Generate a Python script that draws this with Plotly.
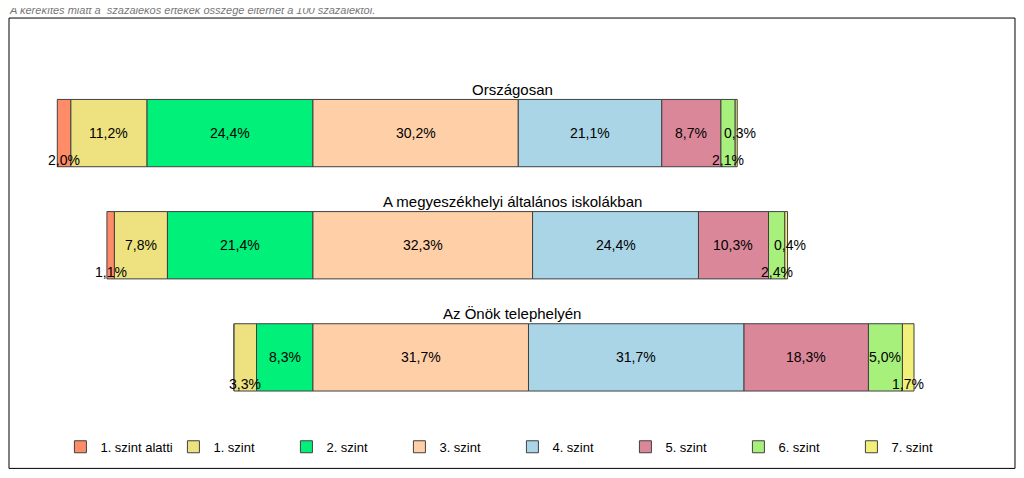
import plotly.graph_objects as go

groups = ["Országosan", "A megyeszékhelyi általános iskolákban", "Az Önök telephelyén"]
levels = ["1. szint alatti", "1. szint", "2. szint", "3. szint",
          "4. szint", "5. szint", "6. szint", "7. szint"]
values = [
    [2.0, 11.2, 24.4, 30.2, 21.1, 8.7, 2.1, 0.3],
    [1.1, 7.8, 21.4, 32.3, 24.4, 10.3, 2.4, 0.4],
    [0.0, 3.3, 8.3, 31.7, 31.7, 18.3, 5.0, 1.7],
]
colors = ["#FF8C69", "#EDE27F", "#00F07A", "#FFCFA8",
          "#AAD5E6", "#DB879A", "#A8F07C", "#F2F078"]

ypos = [2, 1, 0]  # top to bottom

fig = go.Figure()
annotations = []
for li, lvl in enumerate(levels):
    xs, bases, ys = [], [], []
    for gi, row in enumerate(values):
        start = -sum(row[:3]) + sum(row[:li])
        xs.append(row[li])
        bases.append(start)
        ys.append(ypos[gi])
        v = row[li]
        if v <= 0:
            continue
        txt = f"{v:.1f}%".replace(".", ",")
        cx = start + v / 2
        if v >= 4:
            annotations.append(dict(x=cx, y=ypos[gi], text=txt, showarrow=False))
        elif li == len(levels) - 1 and v < 1:
            annotations.append(dict(x=cx, y=ypos[gi], text=txt, showarrow=False, xshift=4))
        else:
            annotations.append(dict(x=cx, y=ypos[gi], text=txt, showarrow=False, yshift=-27))
    fig.add_trace(go.Bar(
        orientation="h", x=xs, base=bases, y=ys, name=lvl,
        marker=dict(color=colors[li], line=dict(color="#404040", width=1)),
        width=0.6, hoverinfo="skip",
    ))

for gi, g in enumerate(groups):
    annotations.append(dict(x=0.5, xref="paper", y=ypos[gi] + 0.39, text=g,
                            showarrow=False, font=dict(size=15)))

annotations.append(dict(x=0, xref="paper", y=1.061, yref="paper", xanchor="left",
                        yanchor="bottom", xshift=-1,
                        text="<i>A kerekítés miatt a  százalékos értékek összege eltérhet a 100 százaléktól.</i>",
                        showarrow=False, font=dict(size=11, color="#777")))
for a in annotations:
    a.setdefault("font", dict(size=14, color="black"))

fig.update_layout(
    barmode="overlay",
    width=1008, height=462,
    margin=dict(l=0, r=0, t=32, b=70),
    plot_bgcolor="white", paper_bgcolor="white",
    font=dict(family="Liberation Sans, Arial", color="black"),
    xaxis=dict(range=[-44.85, 103.4], visible=False),
    yaxis=dict(range=[-0.38, 2.83], visible=False),
    annotations=annotations,
    showlegend=True,
    legend=dict(orientation="h", x=0.052, xanchor="left", y=-0.13, yanchor="middle",
                entrywidth=68, traceorder="normal", font=dict(size=13)),
    shapes=[dict(type="rect", xref="paper", yref="paper", x0=0.001, x1=0.999,
                 y0=-0.19, y1=1.061, line=dict(color="black", width=1))],
)
fig.write_html("out.html")
